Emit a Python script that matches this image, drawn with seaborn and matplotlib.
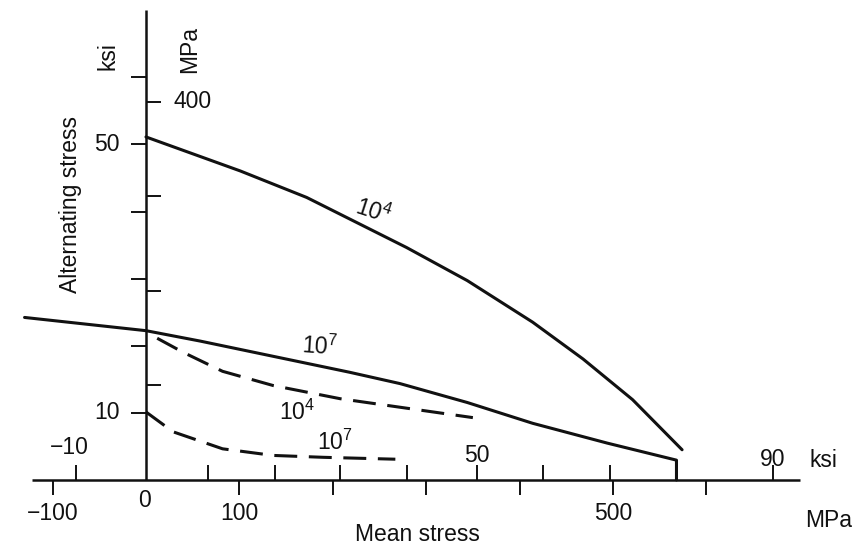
import matplotlib
matplotlib.use("Agg")
import matplotlib.pyplot as plt
import seaborn as sns
import pandas as pd

# ---------------- data (MPa) ----------------
mean_n4_solid = [0, 101, 172, 279, 344, 414, 468, 521, 574]
alt_n4_solid = [363, 327, 299, 246, 211, 167, 128, 85, 32]

mean_n7_solid = [-130, 0, 58, 218, 272, 344, 414, 494, 568, 568]
alt_n7_solid = [172, 158, 147, 114, 102, 82, 60, 39, 21, 0]

mean_n4_dash = [12, 40, 82, 136, 208, 279, 350]
alt_n4_dash = [150, 135, 115, 100, 86, 76, 66]

mean_n7_dash = [0, 29, 82, 136, 190, 267]
alt_n7_dash = [72, 51, 33, 26, 24, 22]

# tick values
mpa_x_ticks = [-100, 100, 200, 300, 400, 500, 600]
mpa_x_labels = {-100: "\u2212100", 100: "100", 500: "500"}
ksi_x_ticks = [-10, 10, 20, 30, 40, 50, 60, 70, 80, 90]
ksi_x_tick_mpa = [-75, 66, 138, 208, 279, 354, 425, 497, 568, 671]  # as drawn
ksi_x_labels = {-10: "\u221210", 50: "50", 90: "90"}
mpa_y_ticks = [100, 200, 300, 400]
mpa_y_labels = {400: "400"}
ksi_y_ticks = [10, 20, 30, 40, 50, 60]
ksi_y_labels = {10: "10", 50: "50"}
KSI_DRAWN = 7.1  # MPa per ksi as drawn on the vertical scale

# ---------------- style ----------------
sns.set_style("white")
plt.rcParams["font.family"] = ["Liberation Sans", "DejaVu Sans"]
plt.rcParams["mathtext.fontset"] = "custom"
plt.rcParams["mathtext.it"] = "Liberation Sans:italic"
plt.rcParams["mathtext.rm"] = "Liberation Sans"

W, H = 853, 547
fig = plt.figure(figsize=(W / 100, H / 100), dpi=100)
ax = fig.add_axes([0, 0, 1, 1])
ax.set_xlim(-156.3, 757.0)
ax.set_ylim(-70.9, 507.9)
ax.axis("off")

K = "#111111"
LW = 2.2
FS = 16.5

def curve(x, y, dashed=False):
    df = pd.DataFrame({"mean": x, "alt": y})
    kw = dict(color=K, linewidth=LW, estimator=None, sort=False, ax=ax)
    if dashed:
        kw["linestyle"] = (0, (7.5, 3.8))
    sns.lineplot(data=df, x="mean", y="alt", **kw)

curve(mean_n4_solid, alt_n4_solid)
curve(mean_n7_solid, alt_n7_solid)
curve(mean_n4_dash, alt_n4_dash, dashed=True)
curve(mean_n7_dash, alt_n7_dash, dashed=True)
if ax.get_legend() is not None:
    ax.get_legend().remove()

# axes lines
ax.plot([-122, 700], [0, 0], color=K, lw=1.8, solid_capstyle="butt")
ax.plot([0, 0], [0, 497], color=K, lw=1.8, solid_capstyle="butt")

TL = 16  # tick length (data units)
# x ticks: MPa below, ksi above
ax.vlines(mpa_x_ticks, -TL, 0, color=K, lw=1.4)
ax.vlines(ksi_x_tick_mpa, 0, TL, color=K, lw=1.4)
# y ticks: ksi left, MPa right
ax.hlines([k * KSI_DRAWN for k in ksi_y_ticks], -TL, 0, color=K, lw=1.4)
ax.hlines(mpa_y_ticks, 0, TL, color=K, lw=1.4)

# tick labels
for v, s in mpa_x_labels.items():
    ax.text(v, -35, s, fontsize=FS, ha="center", va="center", color=K)
ax.text(-2, -22, "0", fontsize=FS, ha="center", va="center", color=K)
for v, s in ksi_x_labels.items():
    pos = ksi_x_tick_mpa[ksi_x_ticks.index(v)]
    ax.text(pos + (-7 if v < 0 else 0), 26 + (8 if v < 0 else 0) - (4 if v == 90 else 0),
            s, fontsize=FS, ha="center", va="center", color=K)
for v, s in ksi_y_labels.items():
    ax.text(-28, v * KSI_DRAWN, s, fontsize=FS, ha="right", va="center", color=K)
for v, s in mpa_y_labels.items():
    ax.text(29, v, s, fontsize=FS, ha="left", va="center", color=K)

# unit and axis labels
ax.text(-40.7, 449, "ksi", fontsize=FS, rotation=90, ha="center", va="center", color=K)
ax.text(47, 456, "MPa", fontsize=FS, rotation=90, ha="center", va="center", color=K)
ax.text(-81, 291, "Alternating stress", fontsize=FS, rotation=90,
        ha="center", va="center", color=K)
ax.text(291, -58, "Mean stress", fontsize=FS, ha="center", va="center", color=K)
ax.text(725, 21, "ksi", fontsize=FS, ha="center", va="center", color=K)
ax.text(731, -43, "MPa", fontsize=FS, ha="center", va="center", color=K)

# curve labels
def n_label(x, y, e, rot):
    ax.text(x, y, r"$\mathit{10}^{\mathit{%d}}$" % e, fontsize=FS, rotation=rot,
            ha="center", va="center", color=K)

n_label(243, 284, 4, -18)
n_label(186, 141, 7, -4)
n_label(162, 72, 4, 0)
n_label(202, 40, 7, 0)

fig.savefig("out.png", dpi=100)
